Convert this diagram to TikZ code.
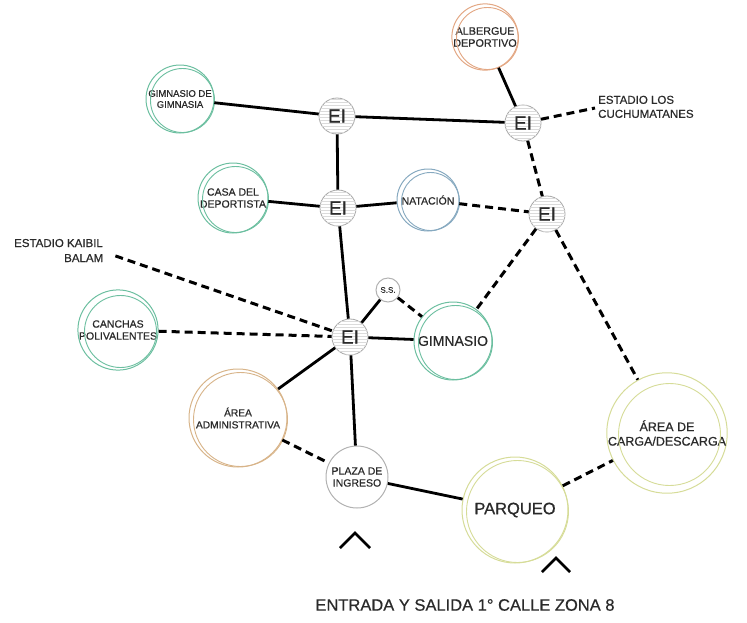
\documentclass[tikz,border=0pt]{standalone}
\usepackage{fontspec}
\setmainfont{Liberation Sans}[UprightFeatures={FakeBold=0.6}]
\usetikzlibrary{patterns}
\definecolor{grn}{HTML}{6CBFA0}
\definecolor{org}{HTML}{E3A783}
\definecolor{tanc}{HTML}{D8B489}
\definecolor{blu}{HTML}{86A9C0}
\definecolor{ylw}{HTML}{D6DC98}
\definecolor{txt}{HTML}{2A2A2A}
\newcommand\ringtwo[3]{\draw[#2, line width=0.9pt] ([shift={(2.5,1.5)}]#1.center) circle[radius=#3];}
\begin{document}
\begin{tikzpicture}[x=1pt,y=-1pt,
  room/.style={circle, draw=#1, line width=1pt, inner sep=0pt, align=center, text=txt, fill=white},
  ei/.style={circle, draw=gray!70, line width=0.8pt, fill=white,
    postaction={pattern=horizontal lines, pattern color=gray!28},
    minimum size=36pt, inner sep=0pt, font=\fontsize{19}{19}\selectfont, text=txt},
  solidlink/.style={line width=2.8pt},
  dashlink/.style={line width=3pt, dash pattern=on 8pt off 5pt},
  lbl/.style={font=\fontsize{11.5}{14}\selectfont, text=txt, inner sep=0pt},
]
\useasboundingbox (0,0) rectangle (747,622);

% rooms
\node[room=grn, minimum size=68pt, font=\fontsize{9.5}{11}\selectfont] (gdg) at (180,99) {GIMNASIO DE\\GIMNASIA};
\ringtwo{gdg}{grn}{32}
\node[room=org, minimum size=66pt, font=\fontsize{10.8}{12}\selectfont] (alb) at (485,37) {ALBERGUE\\DEPORTIVO};
\ringtwo{alb}{org}{31}
\node[room=grn, minimum size=70pt, font=\fontsize{10.5}{12}\selectfont] (cdd) at (233,198) {CASA DEL\\DEPORTISTA};
\ringtwo{cdd}{grn}{33}
\node[room=blu, minimum size=62pt, font=\fontsize{10.5}{12}\selectfont] (nat) at (428,200) {NATACIÓN};
\ringtwo{nat}{blu}{29}
\node[room=grn, minimum size=76pt, font=\fontsize{10.5}{12}\selectfont] (can) at (118,330) {CANCHAS\\POLIVALENTES};
\ringtwo{can}{grn}{36}
\node[room=grn, minimum size=78pt, font=\fontsize{14}{15}\selectfont] (gym) at (453,341) {GIMNASIO};
\ringtwo{gym}{grn}{37}
\node[room=tanc, minimum size=98pt, font=\fontsize{10.2}{12}\selectfont] (adm) at (238,418) {ÁREA\\ADMINISTRATIVA};
\ringtwo{adm}{tanc}{47}
\node[room=gray!60, minimum size=62pt, font=\fontsize{10.5}{12}\selectfont] (plz) at (357,477) {PLAZA DE\\INGRESO};
\node[room=ylw, minimum size=106pt, font=\fontsize{16.5}{18}\selectfont] (par) at (515,510) {PARQUEO};
\ringtwo{par}{ylw}{51}
\node[room=ylw, minimum size=106pt, font=\fontsize{12.5}{14.5}\selectfont] (cdc) at (667,433) {ÁREA DE\\CARGA/DESCARGA};
\ringtwo{cdc}{ylw}{51}
\node[room=gray!60, minimum size=24pt, font=\fontsize{8}{9}\selectfont] (ss) at (388,290) {S.S.};

% EI nodes
\node[ei] (e1) at (337,116) {EI};
\node[ei] (e2) at (523,123) {EI};
\node[ei] (e3) at (338,208) {EI};
\node[ei] (e4) at (547,214) {EI};
\node[ei] (e5) at (350,337) {EI};

% outside labels
\node[lbl, anchor=west] (cu) at (598,108) {\begin{tabular}{@{}l@{}}ESTADIO LOS\\CUCHUMATANES\end{tabular}};
\node[lbl, anchor=base west] (kba) at (14,247) {ESTADIO KAIBIL};
\node[lbl, anchor=base west] (kb) at (64,262) {BALAM};
\node[font=\fontsize{16.5}{18}\selectfont, text=txt] (bt) at (465,605) {ENTRADA Y SALIDA 1° CALLE ZONA 8};

% connectors
\draw[solidlink] (gdg) -- (e1);
\draw[solidlink] (e1) -- (e2);
\draw[solidlink] (alb) -- (e2);
\draw[dashlink] (e2) -- ([xshift=-3pt]cu.west);
\draw[dashlink] (e2) -- (e4);
\draw[solidlink] (e1) -- (e3);
\draw[solidlink] (cdd) -- (e3);
\draw[solidlink] (e3) -- (nat);
\draw[dashlink] (nat) -- (e4);
\draw[dashlink] (e4) -- (gym);
\draw[dashlink] (e4) -- (cdc);
\draw[solidlink] (e3) -- (e5);
\draw[dashlink] ([xshift=12pt,yshift=-2pt]kb.north east) -- (e5);
\draw[dashlink] (can) -- (e5);
\draw[solidlink] (e5) -- (ss);
\draw[dashlink] (ss) -- (gym);
\draw[solidlink] (e5) -- (gym);
\draw[solidlink] (e5) -- (adm);
\draw[solidlink] (e5) -- (plz);
\draw[dashlink] (adm) -- (plz);
\draw[solidlink] (plz) -- (par);
\draw[dashlink] (par) -- (cdc);

% carets
\draw[line width=2.8pt] (340,548) -- (355,533) -- (370,548);
\draw[line width=2.8pt] (542,572) -- (556,558) -- (570,572);
\end{tikzpicture}
\end{document}
